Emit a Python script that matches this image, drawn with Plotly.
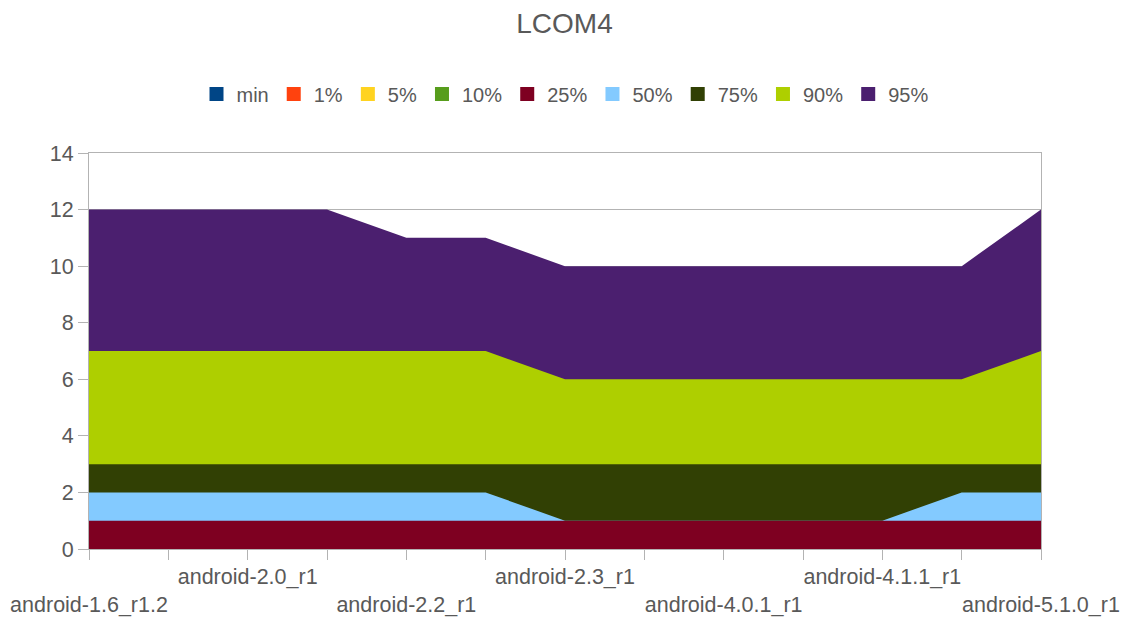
import plotly.graph_objects as go

categories = [
    "android-1.6_r1.2", "android-1.6_r2", "android-2.0_r1", "android-2.1_r1",
    "android-2.2_r1", "android-2.2.3_r1", "android-2.3_r1", "android-2.3.7_r1",
    "android-4.0.1_r1", "android-4.0.4_r1", "android-4.1.1_r1", "android-4.4.4_r1",
    "android-5.1.0_r1",
]
series_names = ["min", "1%", "5%", "10%", "25%", "50%", "75%", "90%", "95%"]
v_min = [0] * 13
v_p1 = [0] * 13
v_p5 = [0] * 13
v_p10 = [0] * 13
v_p25 = [1] * 13
v_p50 = [2, 2, 2, 2, 2, 2, 1, 1, 1, 1, 1, 2, 2]
v_p75 = [3] * 13
v_p90 = [7, 7, 7, 7, 7, 7, 6, 6, 6, 6, 6, 6, 7]
v_p95 = [12, 12, 12, 12, 11, 11, 10, 10, 10, 10, 10, 10, 12]
series_values = [v_min, v_p1, v_p5, v_p10, v_p25, v_p50, v_p75, v_p90, v_p95]
colors = ["#004586", "#ff420e", "#ffd320", "#579d1c", "#7e0021",
          "#83caff", "#314004", "#aecf00", "#4b1f6f"]
y_ticks = [0, 2, 4, 6, 8, 10, 12, 14]

x = list(range(len(categories)))
fig = go.Figure()
# draw back-to-front: 95% first (first series sits in front)
for i in reversed(range(len(series_names))):
    fig.add_trace(go.Scatter(
        x=x, y=series_values[i], name=series_names[i],
        mode="lines", line=dict(width=0, color=colors[i]),
        fill="tozeroy", fillcolor=colors[i], showlegend=False,
        legendgroup=series_names[i], hoverinfo="skip",
    ))
# legend entries with square swatches
for i in range(len(series_names)):
    fig.add_trace(go.Scatter(
        x=[None], y=[None], name=series_names[i], mode="markers",
        marker=dict(symbol="square", size=14, color=colors[i]),
        legendgroup=series_names[i], showlegend=True,
    ))

ticktext = []
for i, c in enumerate(categories):
    if i % 2 == 1:
        ticktext.append("")
    elif i % 4 == 0:
        ticktext.append("<br>" + c)
    else:
        ticktext.append(c)

font = "Liberation Sans, Arial, sans-serif"
fig.update_layout(
    width=1129, height=617,
    paper_bgcolor="white", plot_bgcolor="white",
    margin=dict(l=89, r=88, t=153, b=68, autoexpand=False),
    title=dict(text="LCOM4", x=0.5, xanchor="center", y=1 - 23 / 617, yanchor="middle",
               font=dict(family=font, size=28, color="#595959")),
    legend=dict(orientation="h", x=0.5, xanchor="center", y=1 - 94 / 617, yref="container",
                yanchor="middle", font=dict(family=font, size=20, color="#595959"),
                traceorder="normal", itemwidth=30),
    showlegend=True,
    font=dict(family=font, color="#595959"),
)
fig.update_xaxes(
    range=[0, 12], tickvals=x, ticktext=ticktext, automargin=False,
    showgrid=False, showline=True, linecolor="#b3b3b3", mirror=True,
    ticks="outside", ticklen=10, tickcolor="#b3b3b3", tickangle=0,
    tickfont=dict(family=font, size=21.5, color="#595959"), zeroline=False,
    ticklabelstandoff=-2, layer="below traces",
)
fig.update_yaxes(
    range=[0, 14], tickvals=y_ticks, automargin=False,
    showgrid=True, gridcolor="#b3b3b3", showline=True, linecolor="#b3b3b3", mirror=True,
    ticks="outside", ticklen=10, tickcolor="#b3b3b3",
    tickfont=dict(family=font, size=21.5, color="#595959"), zeroline=False,
    layer="below traces",
)
fig.write_html(
    "out.html",
    config={"displayModeBar": False},
    post_script="document.body.style.margin='0';document.body.style.overflow='hidden';",
)
